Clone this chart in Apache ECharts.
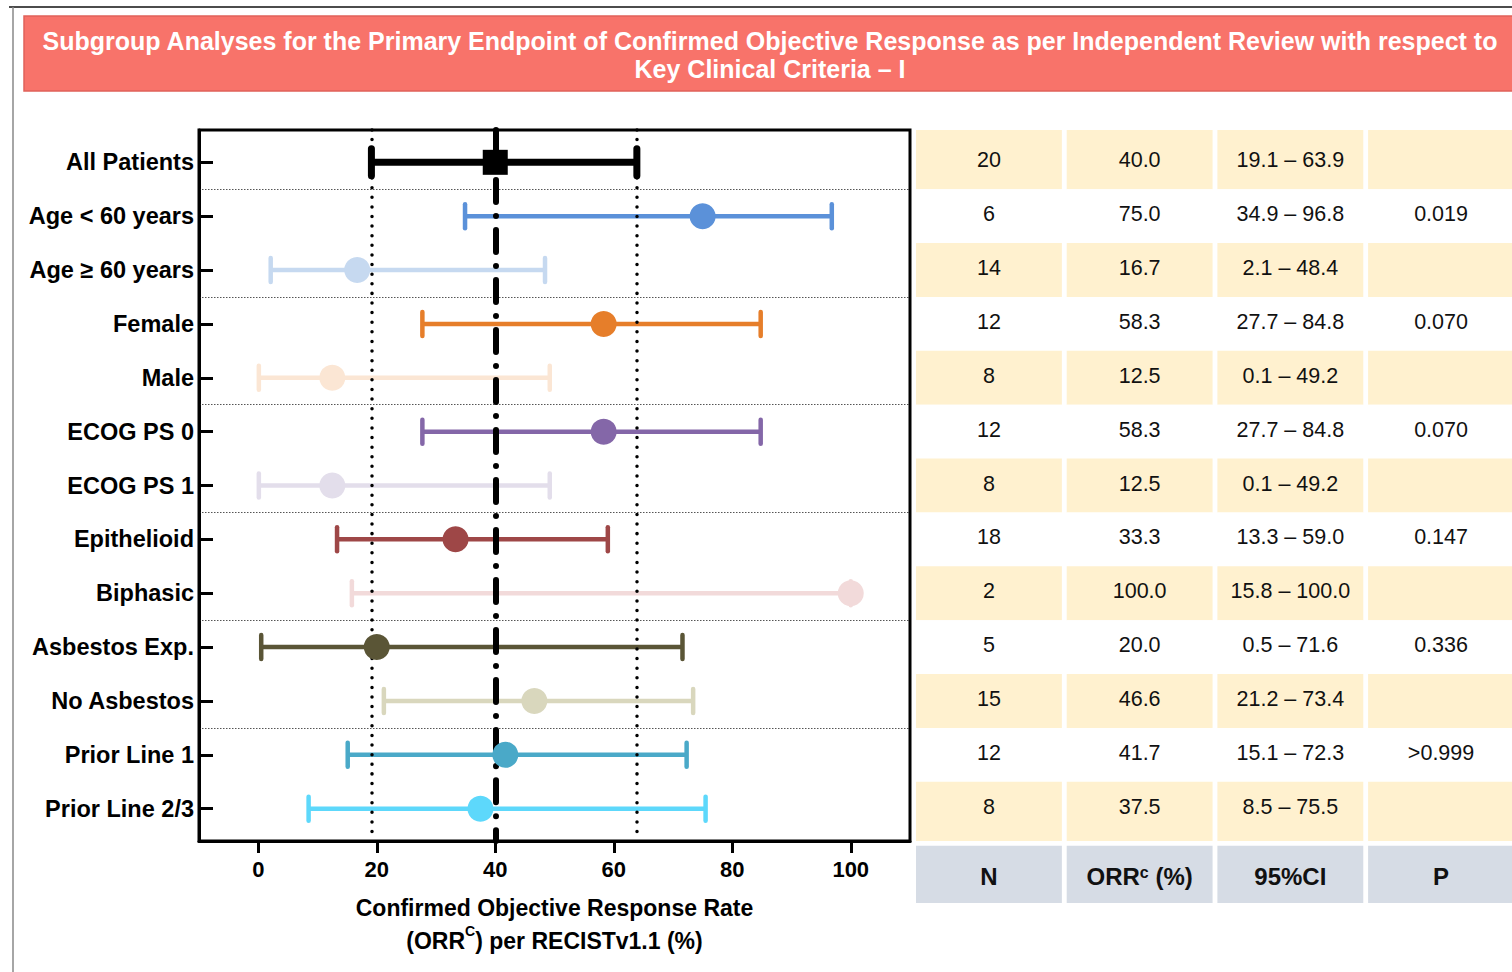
<!DOCTYPE html>
<html>
<head>
<meta charset="utf-8">
<style>
  html, body { margin: 0; padding: 0; background: #ffffff; }
  #chart { width: 1512px; height: 972px; }
</style>
<script src="https://cdn.jsdelivr.net/npm/echarts@6/dist/echarts.min.js"></script>
</head>
<body>
<div id="chart"></div>
<script>
// ---------------- data ----------------
const categories = ['All Patients', 'Age < 60 years', 'Age \u2265 60 years', 'Female', 'Male',
  'ECOG PS 0', 'ECOG PS 1', 'Epithelioid', 'Biphasic', 'Asbestos Exp.', 'No Asbestos',
  'Prior Line 1', 'Prior Line 2/3'];
const nValues   = [20, 6, 14, 12, 8, 12, 8, 18, 2, 5, 15, 12, 8];
const orrValues = [40.0, 75.0, 16.7, 58.3, 12.5, 58.3, 12.5, 33.3, 100.0, 20.0, 46.6, 41.7, 37.5];
const ciLow     = [19.1, 34.9, 2.1, 27.7, 0.1, 27.7, 0.1, 13.3, 15.8, 0.5, 21.2, 15.1, 8.5];
const ciHigh    = [63.9, 96.8, 48.4, 84.8, 49.2, 84.8, 49.2, 59.0, 100.0, 71.6, 73.4, 72.3, 75.5];
const pValues   = ['', '0.019', '', '0.070', '', '0.070', '', '0.147', '', '0.336', '', '>0.999', ''];
const xTickValues = [0, 20, 40, 60, 80, 100];
const groupSeparators = [0.5, 2.5, 4.5, 6.5, 8.5, 10.5];
const tableHeaders = ['N', 'ORR{s|c} (%)', '95%CI', 'P'];

// ---------------- styles ----------------
const rowColors = ['#000000', '#5B91D9', '#C6D9F0', '#E67E2A', '#FBE6D4', '#8467A8', '#E3DEEB',
  '#9E4747', '#F2DADA', '#5A5536', '#D9D7BD', '#4AA9C8', '#5DD8FB'];
const FONT = '"Liberation Sans", Arial, Helvetica, sans-serif';
const PX_PER_ROW = 711 / 13.2;
const Y_MIN = -0.6, Y_MAX = 12.6;
const TABLE_Y_MAX = Y_MIN + 773 / PX_PER_ROW;
const COL_PX = 150.7;
const TABLE_X_MAX = 596 / COL_PX;
const CELL_W = 0.968;
const YELLOW = '#FFF1CF', HEADER = '#D6DCE5';

const rowIdx = categories.map((_, i) => i);
const lastRow = categories.length - 1;

// table cells
const cells = [];
rowIdx.forEach(i => {
  const texts = [String(nValues[i]), orrValues[i].toFixed(1),
    ciLow[i].toFixed(1) + ' \u2013 ' + ciHigh[i].toFixed(1), pValues[i]];
  texts.forEach((t, c) => {
    cells.push({
      value: [c, i === 0 ? Y_MIN : i - 0.5, i === lastRow ? Y_MAX : i + 0.5, i],
      text: t, fill: (i % 2 === 0) ? YELLOW : '#ffffff', header: false
    });
  });
});
const headerTop = 12.69, headerBottom = TABLE_Y_MAX;
tableHeaders.forEach((t, c) => {
  cells.push({ value: [c, headerTop, headerBottom, (headerTop + headerBottom) / 2 + 0.04],
    text: t, fill: HEADER, header: true });
});

const chart = echarts.init(document.getElementById('chart'), null, { renderer: 'svg' });

const option = {
  animation: false,
  backgroundColor: '#ffffff',
  textStyle: { fontFamily: FONT },
  graphic: [
    { type: 'line', shape: { x1: 9, y1: 7, x2: 1512, y2: 7 }, style: { stroke: '#111', lineWidth: 1.5 }, z: 100 },
    { type: 'line', shape: { x1: 13, y1: 7, x2: 13, y2: 972 }, style: { stroke: '#888', lineWidth: 1.5 }, z: 100 },
    { type: 'rect', shape: { x: 24, y: 16, width: 1500, height: 75 },
      style: { fill: '#F8736A', stroke: '#E0625A', lineWidth: 1.5 }, z: 100 },
    { type: 'text', x: 770, y: 55, z: 101,
      style: {
        text: 'Subgroup Analyses for the Primary Endpoint of Confirmed Objective Response as per Independent Review with respect to\nKey Clinical Criteria \u2013 I',
        fill: '#ffffff', font: 'bold 25px ' + FONT, align: 'center', verticalAlign: 'middle', lineHeight: 28
      } }
  ],
  grid: [
    { left: 199, top: 130, width: 711, height: 711, show: true, borderWidth: 3, borderColor: '#000', backgroundColor: 'transparent', z: 10 },
    { left: 916, top: 130, right: 0, height: 773, show: false }
  ],
  xAxis: [
    {
      gridIndex: 0, type: 'value', min: -10, max: 110,
      axisLine: { show: true, onZero: false, lineStyle: { color: '#000', width: 3 } },
      axisTick: { show: true, customValues: xTickValues, length: 12, inside: false, lineStyle: { color: '#000', width: 3 } },
      axisLabel: { show: true, customValues: xTickValues, margin: 17, color: '#000', fontSize: 22, fontWeight: 'bold', fontFamily: FONT },
      splitLine: { show: false },
      name: 'Confirmed Objective Response Rate\n(ORR{s|C}) per RECISTv1.1 (%)',
      nameLocation: 'middle', nameGap: 50,
      nameTextStyle: {
        color: '#000', fontSize: 23, fontWeight: 'bold', fontFamily: FONT, lineHeight: 33,
        rich: { s: { fontSize: 14, fontWeight: 'bold', fontFamily: FONT, verticalAlign: 'top', lineHeight: 14, color: '#000' } }
      }
    },
    { gridIndex: 1, type: 'value', min: 0, max: TABLE_X_MAX, show: false, splitLine: { show: false } }
  ],
  yAxis: [
    {
      gridIndex: 0, type: 'value', inverse: true, min: Y_MIN, max: Y_MAX,
      axisLine: { show: true, onZero: false, lineStyle: { color: '#000', width: 3 } },
      axisTick: { show: true, customValues: rowIdx, inside: true, length: 14, lineStyle: { color: '#000', width: 3 } },
      axisLabel: { show: true, customValues: rowIdx, margin: 5, color: '#000', fontSize: 23.5, fontWeight: 'bold', fontFamily: FONT,
        formatter: v => categories[Math.round(v)] },
      splitLine: { show: false }
    },
    { gridIndex: 1, type: 'value', inverse: true, min: Y_MIN, max: TABLE_Y_MAX, show: false, splitLine: { show: false } }
  ],
  series: [
    // reference lines & group separators
    {
      type: 'line', xAxisIndex: 0, yAxisIndex: 0, data: [], z: 2, silent: true,
      markLine: {
        silent: true, symbol: 'none', animation: false, label: { show: false },
        data: [
          ...groupSeparators.map(v => ({ yAxis: v, lineStyle: { color: '#555', width: 1, type: [1.5, 1.5] } })),
          { xAxis: ciLow[0], lineStyle: { color: '#000', width: 3.5, type: [0.01, 9.6], cap: 'round' } },
          { xAxis: ciHigh[0], lineStyle: { color: '#000', width: 3.5, type: [0.01, 9.6], cap: 'round' } },
          { xAxis: orrValues[0], lineStyle: { color: '#000', width: 6, type: [22, 14, 0.01, 14], cap: 'round' } }
        ]
      }
    },
    // error bars
    {
      type: 'custom', xAxisIndex: 0, yAxisIndex: 0, z: 3,
      data: rowIdx.map(i => [ciLow[i], ciHigh[i], i]),
      encode: { x: [0, 1], y: 2 },
      renderItem: function (params, api) {
        const lo = api.value(0), hi = api.value(1), row = api.value(2);
        const p1 = api.coord([lo, row]), p2 = api.coord([hi, row]);
        const main = row === 0;
        const w = main ? 7 : 4.5, capH = main ? 31 : 28, capW = main ? 7 : 4.5;
        const color = rowColors[row];
        const st = { stroke: color, lineWidth: w, fill: 'none' };
        const cst = { stroke: color, lineWidth: capW, lineCap: 'round', fill: 'none' };
        return {
          type: 'group', children: [
            { type: 'line', shape: { x1: p1[0], y1: p1[1], x2: p2[0], y2: p2[1] }, style: st },
            { type: 'line', shape: { x1: p1[0], y1: p1[1] - capH / 2 + 2, x2: p1[0], y2: p1[1] + capH / 2 - 2 }, style: cst },
            { type: 'line', shape: { x1: p2[0], y1: p2[1] - capH / 2 + 2, x2: p2[0], y2: p2[1] + capH / 2 - 2 }, style: cst }
          ]
        };
      }
    },
    // point estimates
    {
      type: 'scatter', xAxisIndex: 0, yAxisIndex: 0, z: 5,
      data: rowIdx.map(i => ({
        value: [orrValues[i], i],
        symbol: i === 0 ? 'rect' : 'circle',
        symbolSize: i === 0 ? 25 : 26,
        itemStyle: { color: rowColors[i], opacity: 1 }
      }))
    },
    // table
    {
      type: 'custom', xAxisIndex: 1, yAxisIndex: 1, z: 3, clip: false,
      data: cells.map(c => c.value),
      encode: { x: 0, y: [1, 2] },
      renderItem: function (params, api) {
        const cell = cells[params.dataIndex];
        const c = api.value(0), y0 = api.value(1), y1 = api.value(2), ym = api.value(3);
        const a = api.coord([c, y0]), b = api.coord([c + CELL_W, y1]);
        const mid = api.coord([c + CELL_W / 2, ym]);
        const children = [
          { type: 'rect', shape: { x: a[0], y: a[1], width: b[0] - a[0], height: b[1] - a[1] }, style: { fill: cell.fill } }
        ];
        if (cell.text) {
          children.push({
            type: 'text', x: mid[0], y: cell.header ? mid[1] : mid[1] - 2,
            style: cell.header ? {
              text: cell.text, fill: '#111', align: 'center', verticalAlign: 'middle',
              font: 'bold 24px ' + FONT,
              rich: { s: { fontSize: 16, fontWeight: 'bold', fontFamily: FONT, verticalAlign: 'top', lineHeight: 16, fill: '#111' } }
            } : {
              text: cell.text, fill: '#111', align: 'center', verticalAlign: 'middle',
              font: '21.5px ' + FONT
            }
          });
        }
        return { type: 'group', children: children };
      }
    }
  ]
};
chart.setOption(option);
</script>
</body>
</html>
